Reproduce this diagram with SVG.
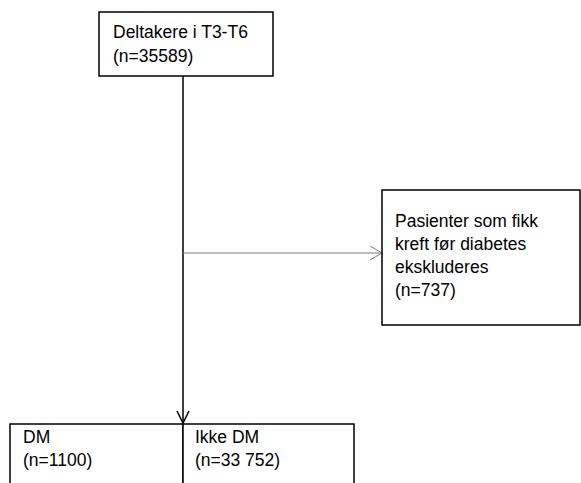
<svg xmlns="http://www.w3.org/2000/svg" width="581" height="483" viewBox="0 0 581 483">
<defs>
<style>
.box{fill:#ffffff;stroke:#000000;stroke-width:1.5}
.t{font-family:"Liberation Sans",Arial,sans-serif;font-size:17.5px;fill:#000000}
.main{stroke:#000000;stroke-width:1.5;fill:none}
.side{stroke:#7f7f7f;stroke-width:1;fill:none}
</style>
</defs>
<rect width="581" height="483" fill="#ffffff"/>
<g id="connectors">
<line class="main" x1="183" y1="76" x2="183" y2="423"/>
<polyline class="main" points="177,411 183,423 189,411"/>
<line class="side" x1="183" y1="253" x2="382" y2="253"/>
<polyline class="side" points="370,246 382,253 370,260"/>
</g>
<g id="participants">
<rect class="box" x="99" y="12" width="174" height="64"/>
<text class="t" x="113" y="38">Deltakere i T3-T6</text>
<text class="t" x="113" y="62">(n=35589)</text>
</g>
<g id="excluded">
<rect class="box" x="382" y="190" width="198" height="135"/>
<text class="t" x="395" y="227">Pasienter som fikk</text>
<text class="t" x="395" y="250">kreft før diabetes</text>
<text class="t" x="395" y="273">ekskluderes</text>
<text class="t" x="395" y="296">(n=737)</text>
</g>
<g id="dm">
<rect class="box" x="10" y="424" width="173" height="70"/>
<text class="t" x="23" y="443">DM</text>
<text class="t" x="23" y="466">(n=1100)</text>
</g>
<g id="ikke-dm">
<rect class="box" x="183" y="424" width="171" height="70"/>
<text class="t" x="195" y="443">Ikke DM</text>
<text class="t" x="195" y="466">(n=33 752)</text>
</g>
</svg>
